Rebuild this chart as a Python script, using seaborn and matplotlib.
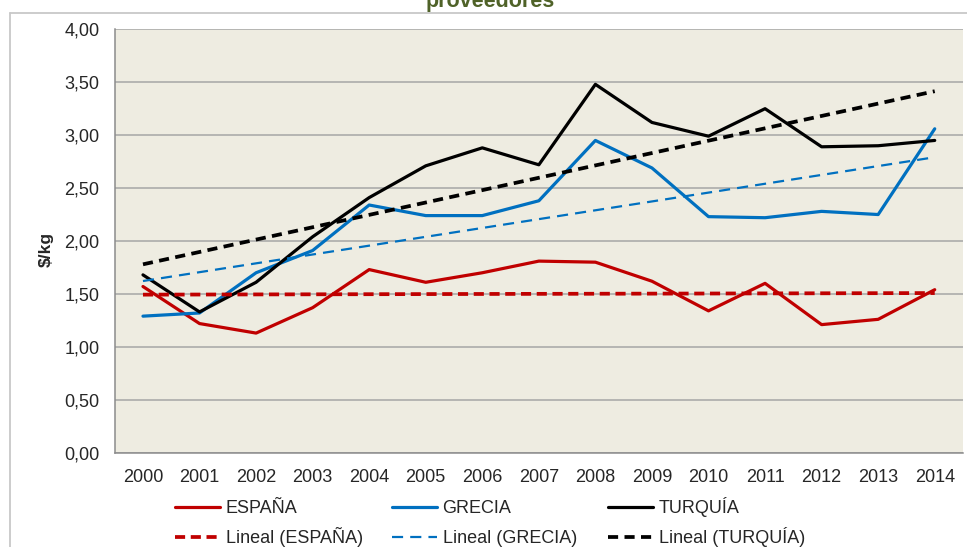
import numpy as np
import pandas as pd
import matplotlib
matplotlib.use("Agg")
import matplotlib.pyplot as plt
from matplotlib.lines import Line2D
import seaborn as sns

# Price series ($/kg) by supplier country
years = [str(y) for y in range(2000, 2015)]
espana = [1.57, 1.22, 1.13, 1.37, 1.73, 1.61, 1.70, 1.81, 1.80, 1.62, 1.34, 1.60, 1.21, 1.26, 1.54]
grecia = [1.29, 1.32, 1.70, 1.91, 2.34, 2.24, 2.24, 2.38, 2.95, 2.69, 2.23, 2.22, 2.28, 2.25, 3.06]
turquia = [1.68, 1.33, 1.61, 2.04, 2.41, 2.71, 2.88, 2.72, 3.48, 3.12, 2.99, 3.25, 2.89, 2.90, 2.95]
countries = ["ESPAÑA", "GRECIA", "TURQUÍA"]
y_ticks = [0.0, 0.5, 1.0, 1.5, 2.0, 2.5, 3.0, 3.5, 4.0]
y_tick_labels = ["0,00", "0,50", "1,00", "1,50", "2,00", "2,50", "3,00", "3,50", "4,00"]
title_text = "proveedores"
y_label = "$/kg"

colors = {"ESPAÑA": "#C00000", "GRECIA": "#0070C0", "TURQUÍA": "#000000"}
trend_style = {
    "ESPAÑA": dict(lw=2.7, dashes=(2.7, 1.5)),
    "GRECIA": dict(lw=1.6, dashes=(5.0, 3.2)),
    "TURQUÍA": dict(lw=2.7, dashes=(2.7, 1.7)),
}

pos = list(range(len(years)))
values = {"ESPAÑA": espana, "GRECIA": grecia, "TURQUÍA": turquia}
df = pd.DataFrame({
    "pos": pos * 3,
    "valor": espana + grecia + turquia,
    "país": [c for c in countries for _ in years],
})

sns.set_style("white")
plt.rcParams["font.family"] = ["Liberation Sans", "DejaVu Sans"]

fig = plt.figure(figsize=(9.67, 5.47), dpi=100)
ax = fig.add_axes([114.7 / 967, 1 - 452.7 / 547, (963 - 114.7) / 967, (452.7 - 29.3) / 547])
ax.set_facecolor("#EEECE1")

sns.lineplot(data=df, x="pos", y="valor", hue="país", palette=colors,
             linewidth=2.3, legend=False, sort=False, ax=ax, zorder=3)

# Linear trend lines
for c in countries:
    st = trend_style[c]
    sns.regplot(x=np.array(pos, dtype=float), y=np.array(values[c]), scatter=False, ci=None,
                truncate=True, color=colors[c], ax=ax,
                line_kws=dict(lw=st["lw"], dashes=st["dashes"], zorder=4))

ax.set_xlim(-0.5, len(years) - 0.5)
ax.set_ylim(0, 4)
ax.set_yticks(y_ticks)
ax.set_yticklabels(y_tick_labels)
ax.set_xticks(pos)
ax.set_xticklabels(years)
ax.set_xticks(np.arange(-0.5, len(years)), minor=True)
ax.tick_params(axis="x", which="major", length=0, pad=12, labelsize=13)
ax.tick_params(axis="x", which="minor", length=5, color="#8C8C8C", width=1)
ax.tick_params(axis="y", length=6, color="#8C8C8C", width=1, pad=5, labelsize=13)
ax.set_xlabel("")
ax.set_ylabel(y_label, fontsize=12.5, fontweight="bold")
ax.yaxis.set_label_coords(-0.072, 0.48)

ax.yaxis.grid(True, color="#A6A6A6", lw=1.1)
ax.xaxis.grid(False)
ax.set_axisbelow(True)
for s in ["top", "right"]:
    ax.spines[s].set_visible(False)
for s in ["left", "bottom"]:
    ax.spines[s].set_color("#8C8C8C")
    ax.spines[s].set_linewidth(1.1)

# Legend: one column per country, series above its trend line
leg_x = [175 / 967, 392 / 967, 608 / 967]
leg_top = [500, 500, 497]
leg_spacing = [0.55, 0.72, 0.55]
for i, c in enumerate(countries):
    st = trend_style[c]
    handles = [Line2D([], [], color=colors[c], lw=2.3),
               Line2D([], [], color=colors[c], lw=st["lw"], dashes=st["dashes"])]
    labels = [c, f"Lineal ({c})"]
    fig.legend(handles, labels, loc="upper left", bbox_to_anchor=(leg_x[i], 1 - leg_top[i] / 547),
               bbox_transform=fig.transFigure, frameon=False, fontsize=13,
               handlelength=2.5, handletextpad=0.3, labelspacing=leg_spacing[i],
               borderpad=0, borderaxespad=0)

# Title (its upper part lies above the canvas)
fig.text(490 / 967, 1 - 7.5 / 547, title_text, ha="center", va="baseline",
         fontsize=15.5, fontweight="bold", color="#4F6228")

# Chart-area border
fig.add_artist(Line2D([9.5 / 967, 1], [1 - 12.5 / 547, 1 - 12.5 / 547], color="#C8C8C8", lw=1.3,
                      transform=fig.transFigure))
fig.add_artist(Line2D([9.5 / 967, 9.5 / 967], [0, 1 - 12.5 / 547], color="#C8C8C8", lw=1.3,
                      transform=fig.transFigure))

fig.savefig("out.png", dpi=100, facecolor="white")
